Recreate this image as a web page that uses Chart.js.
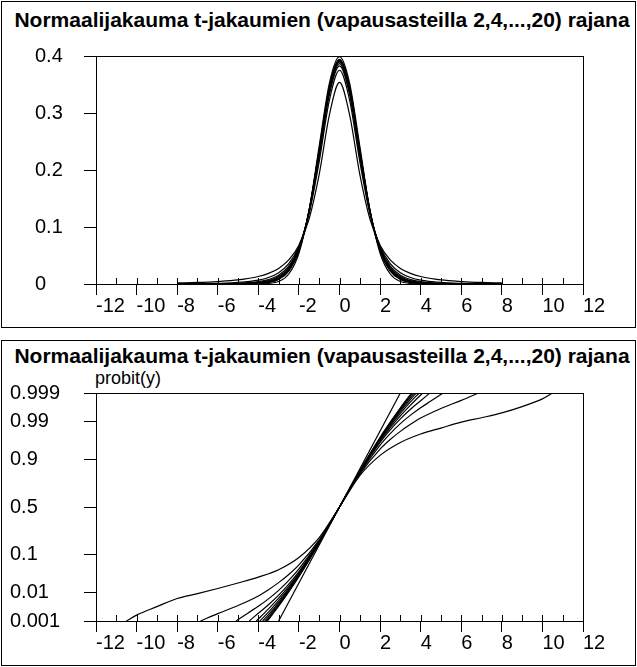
<!DOCTYPE html>
<html>
<head>
<meta charset="utf-8">
<script src="https://cdn.jsdelivr.net/npm/chart.js@4.4.1/dist/chart.umd.min.js"></script>
<style>
  body { margin: 0; background: #fff; width: 637px; height: 667px; position: relative; overflow: hidden;
         font-family: "Liberation Sans", Arial, sans-serif; color: #000; }
  .panel { position: absolute; left: 1px; width: 635px; border: 1px solid #000; box-sizing: border-box; }
  .title { position: absolute; left: 0; width: 644px; text-align: center; font-weight: bold;
           font-size: 21px; line-height: 25px; white-space: nowrap; }
  .ylab { position: absolute; left: 95px; font-size: 18px; line-height: 22px; }
  canvas { position: absolute; left: 0; }
</style>
</head>
<body>
<div class="panel" style="top:1px;height:327px"></div>
<div class="panel" style="top:340px;height:326px"></div>
<div class="title" style="top:7px">Normaalijakauma t-jakaumien (vapausasteilla 2,4,...,20) rajana</div>
<div class="title" style="top:343px">Normaalijakauma t-jakaumien (vapausasteilla 2,4,...,20) rajana</div>
<div class="ylab" style="top:367px">probit(y)</div>
<canvas id="dens" width="637" height="333" style="top:0"></canvas>
<canvas id="cdf" width="637" height="334" style="top:333px"></canvas>
<script>
// x ticks (both panels)
const xTicksMin = -12, xTicksMax = 12;

// top panel: densities at these x
const densX = [-8,-7,-6,-5,-4,-3.5,-3,-2.5,-2,-1.5,-1,-0.5,0,0.5,1,1.5,2,2.5,3,3.5,4,5,6,7,8];
const densNormal = [0,0,0,0,0.0001,0.0009,0.0044,0.0175,0.0540,0.1295,0.2420,0.3521,0.3989,0.3521,0.2420,0.1295,0.0540,0.0175,0.0044,0.0009,0.0001,0,0,0,0];
const densT2  = [0.0019,0.0027,0.0043,0.0071,0.0131,0.0186,0.0274,0.0422,0.0680,0.1141,0.1925,0.2963,0.3536,0.2963,0.1925,0.1141,0.0680,0.0422,0.0274,0.0186,0.0131,0.0071,0.0043,0.0027,0.0019];
const densT4  = [0.0003,0.0006,0.0012,0.0027,0.0067,0.0113,0.0197,0.0357,0.0663,0.1229,0.2147,0.3223,0.3750,0.3223,0.2147,0.1229,0.0663,0.0357,0.0197,0.0113,0.0067,0.0027,0.0012,0.0006,0.0003];
const densT6  = [0.0001,0.0002,0.0004,0.0012,0.0041,0.0078,0.0155,0.0315,0.0640,0.1256,0.2231,0.3318,0.3827,0.3318,0.2231,0.1256,0.0640,0.0315,0.0155,0.0078,0.0041,0.0012,0.0004,0.0002,0.0001];
const densT8  = [0,0.0001,0.0002,0.0007,0.0028,0.0059,0.0130,0.0288,0.0624,0.1268,0.2276,0.3367,0.3867,0.3367,0.2276,0.1268,0.0624,0.0288,0.0130,0.0059,0.0028,0.0007,0.0002,0.0001,0];
const densT10 = [0,0,0.0001,0.0004,0.0020,0.0048,0.0114,0.0269,0.0611,0.1274,0.2304,0.3397,0.3891,0.3397,0.2304,0.1274,0.0611,0.0269,0.0114,0.0048,0.0020,0.0004,0.0001,0,0];
const densT12 = [0,0,0,0.0003,0.0016,0.0040,0.0103,0.0256,0.0602,0.1279,0.2323,0.3417,0.3907,0.3417,0.2323,0.1279,0.0602,0.0256,0.0103,0.0040,0.0016,0.0003,0,0,0];
const densT14 = [0,0,0,0.0002,0.0013,0.0035,0.0095,0.0246,0.0595,0.1282,0.2336,0.3432,0.3919,0.3432,0.2336,0.1282,0.0595,0.0246,0.0095,0.0035,0.0013,0.0002,0,0,0];
const densT16 = [0,0,0,0.0001,0.0011,0.0031,0.0088,0.0238,0.0590,0.1284,0.2346,0.3443,0.3928,0.3443,0.2346,0.1284,0.0590,0.0238,0.0088,0.0031,0.0011,0.0001,0,0,0];
const densT18 = [0,0,0,0.0001,0.0009,0.0028,0.0084,0.0232,0.0585,0.1285,0.2355,0.3452,0.3935,0.3452,0.2355,0.1285,0.0585,0.0232,0.0084,0.0028,0.0009,0.0001,0,0,0];
const densT20 = [0,0,0,0.0001,0.0008,0.0026,0.0080,0.0227,0.0581,0.1287,0.2361,0.3459,0.3941,0.3459,0.2361,0.1287,0.0581,0.0227,0.0080,0.0026,0.0008,0.0001,0,0,0];

// bottom panel: probit(y) per curve (y axis is in probit units)
const probitTickPos = [-3.0902,-2.3263,-1.2816,0,1.2816,2.3263,3.0902];
const probitTickLabels = ['0.001','0.01','0.1','0.5','0.9','0.99','0.999'];

const cdfNormalX = [-3.0,3.0];
const cdfNormalZ = [-3.09,3.09];
const cdfT2X  = [-10.5,-10,-9,-8,-7,-6,-5,-4,-3,-2,-1,0,1,2,3,4,5,6,7,8,9,10,10.5];
const cdfT2Z  = [-3.09,-2.93,-2.70,-2.48,-2.35,-2.21,-2.06,-1.90,-1.70,-1.37,-0.83,0,0.85,1.40,1.75,1.98,2.14,2.30,2.42,2.55,2.72,2.93,3.09];
const cdfT4X  = [-6.85,-6,-5,-4,-3.5,-3,-2.5,-2,-1,0,1,2,2.5,3,3.5,4,5,6,6.85];
const cdfT4Z  = [-3.09,-2.89,-2.67,-2.41,-2.24,-2.05,-1.83,-1.57,-0.89,0,0.89,1.57,1.83,2.05,2.24,2.41,2.67,2.89,3.09];
const cdfT6X  = [-5.1,-4.5,-4,-3.5,-3,-2.5,-2,-1,0,1,2,2.5,3,3.5,4,4.5,5.1];
const cdfT6Z  = [-3.09,-2.87,-2.69,-2.49,-2.26,-1.99,-1.68,-0.92,0,0.92,1.68,1.99,2.26,2.49,2.69,2.87,3.09];
const cdfT8X  = [-4.45,-4,-3.5,-3,-2.5,-2,-1,0,1,2,2.5,3,3.5,4,4.45];
const cdfT8Z  = [-3.09,-2.88,-2.65,-2.39,-2.09,-1.75,-0.94,0,0.94,1.75,2.09,2.39,2.65,2.88,3.09];
const cdfT10X = [-4.1,-3.5,-3,-2.5,-2,-1,0,1,2,2.5,3,3.5,4.1];
const cdfT10Z = [-3.09,-2.76,-2.47,-2.15,-1.79,-0.95,0,0.95,1.79,2.15,2.47,2.76,3.09];
const cdfT12X = [-3.93,-3.5,-3,-2.5,-2,-1,0,1,2,2.5,3,3.5,3.93];
const cdfT12Z = [-3.09,-2.85,-2.54,-2.20,-1.82,-0.96,0,0.96,1.82,2.20,2.54,2.85,3.09];
const cdfT14X = [-3.79,-3.5,-3,-2.5,-2,-1,0,1,2,2.5,3,3.5,3.79];
const cdfT14Z = [-3.09,-2.92,-2.59,-2.23,-1.84,-0.97,0,0.97,1.84,2.23,2.59,2.92,3.09];
const cdfT16X = [-3.69,-3.5,-3,-2.5,-2,-1,0,1,2,2.5,3,3.5,3.69];
const cdfT16Z = [-3.09,-2.97,-2.63,-2.26,-1.86,-0.97,0,0.97,1.86,2.26,2.63,2.97,3.09];
const cdfT18X = [-3.61,-3.5,-3,-2.5,-2,-1,0,1,2,2.5,3,3.5,3.61];
const cdfT18Z = [-3.09,-3.02,-2.66,-2.28,-1.87,-0.97,0,0.97,1.87,2.28,2.66,3.02,3.09];
const cdfT20X = [-3.55,-3,-2.5,-2,-1,0,1,2,2.5,3,3.55];
const cdfT20Z = [-3.09,-2.69,-2.30,-1.89,-0.98,0,0.98,1.89,2.30,2.69,3.09];

const densSeries = [densT2,densT4,densT6,densT8,densT10,densT12,densT14,densT16,densT18,densT20,densNormal];
const cdfSeries = [[cdfT2X,cdfT2Z],[cdfT4X,cdfT4Z],[cdfT6X,cdfT6Z],[cdfT8X,cdfT8Z],[cdfT10X,cdfT10Z],
  [cdfT12X,cdfT12Z],[cdfT14X,cdfT14Z],[cdfT16X,cdfT16Z],[cdfT18X,cdfT18Z],[cdfT20X,cdfT20Z],[cdfNormalX,cdfNormalZ]];

Chart.defaults.color = '#000';
Chart.defaults.font.family = '"Liberation Sans", Arial, sans-serif';
const CLEAR = 'rgba(0,0,0,0)';

// small upward ticks at every unit on the x axis
const innerTicks = {
  id: 'innerTicks',
  afterDraw(chart) {
    const sx = chart.scales.x, c = chart.ctx, b = chart.chartArea.bottom;
    c.save();
    c.strokeStyle = '#000';
    c.lineWidth = 1;
    c.beginPath();
    for (let v = xTicksMin; v <= xTicksMax; v++) {
      const px = Math.round(sx.getPixelForValue(v)) + 0.5;
      c.moveTo(px, b);
      c.lineTo(px, b - 6);
    }
    c.stroke();
    c.restore();
  }
};

function lineDs(points) {
  return {
    data: points, borderColor: '#000', borderWidth: 1.2, pointRadius: 0,
    fill: false, cubicInterpolationMode: 'monotone'
  };
}

function xAxis(height) {
  return {
    type: 'linear', min: xTicksMin, max: xTicksMax,
    afterFit: s => { s.height = height; },
    ticks: {
      stepSize: 1, autoSkip: false, maxRotation: 0, align: 'start', padding: -1,
      font: { size: 20 },
      callback: v => (v % 2 === 0 ? String(v) : '')
    },
    grid: {
      tickLength: 11,
      color: c => (c.tick && c.tick.value === xTicksMax ? '#000' : CLEAR),
      tickColor: c => (c.tick && c.tick.value % 2 === 0 ? '#000' : CLEAR)
    },
    border: { display: true, color: '#000' }
  };
}

function yAxis(width, min, max, extra) {
  return Object.assign({
    type: 'linear', min: min, max: max,
    afterFit: s => { s.width = width; },
    grid: {
      tickLength: 12,
      color: c => (c.tick && Math.abs(c.tick.value - max) < 1e-9 ? '#000' : CLEAR),
      tickColor: '#000'
    },
    border: { display: true, color: '#000' }
  }, extra);
}

const baseOpts = (pad, xH, yScale) => ({
  responsive: false, animation: false, devicePixelRatio: 1, events: [],
  layout: { padding: pad },
  plugins: { legend: { display: false }, title: { display: false }, tooltip: { enabled: false } },
  scales: { x: xAxis(xH), y: yScale }
});

new Chart(document.getElementById('dens'), {
  type: 'line',
  data: { datasets: densSeries.map(arr => lineDs(densX.map((x, i) => ({ x: x, y: arr[i] })))) },
  options: baseOpts({ left: 35, right: 54, top: 56, bottom: 0 }, 333 - 284,
    yAxis(61, 0, 0.4, {
      ticks: { stepSize: 0.1, crossAlign: 'far', font: { size: 20 } }
    })),
  plugins: [innerTicks]
});

new Chart(document.getElementById('cdf'), {
  type: 'line',
  data: { datasets: cdfSeries.map(([xs, zs]) => lineDs(xs.map((x, i) => ({ x: x, y: zs[i] })))) },
  options: baseOpts({ left: 10, right: 54, top: 60, bottom: 0 }, 334 - 288,
    yAxis(86, probitTickPos[0], probitTickPos[probitTickPos.length - 1], {
      afterBuildTicks: s => { s.ticks = probitTickPos.map(v => ({ value: v })); },
      ticks: { crossAlign: 'far', font: { size: 20 }, callback: (v, i) => probitTickLabels[i] }
    })),
  plugins: [innerTicks]
});
</script>
</body>
</html>
